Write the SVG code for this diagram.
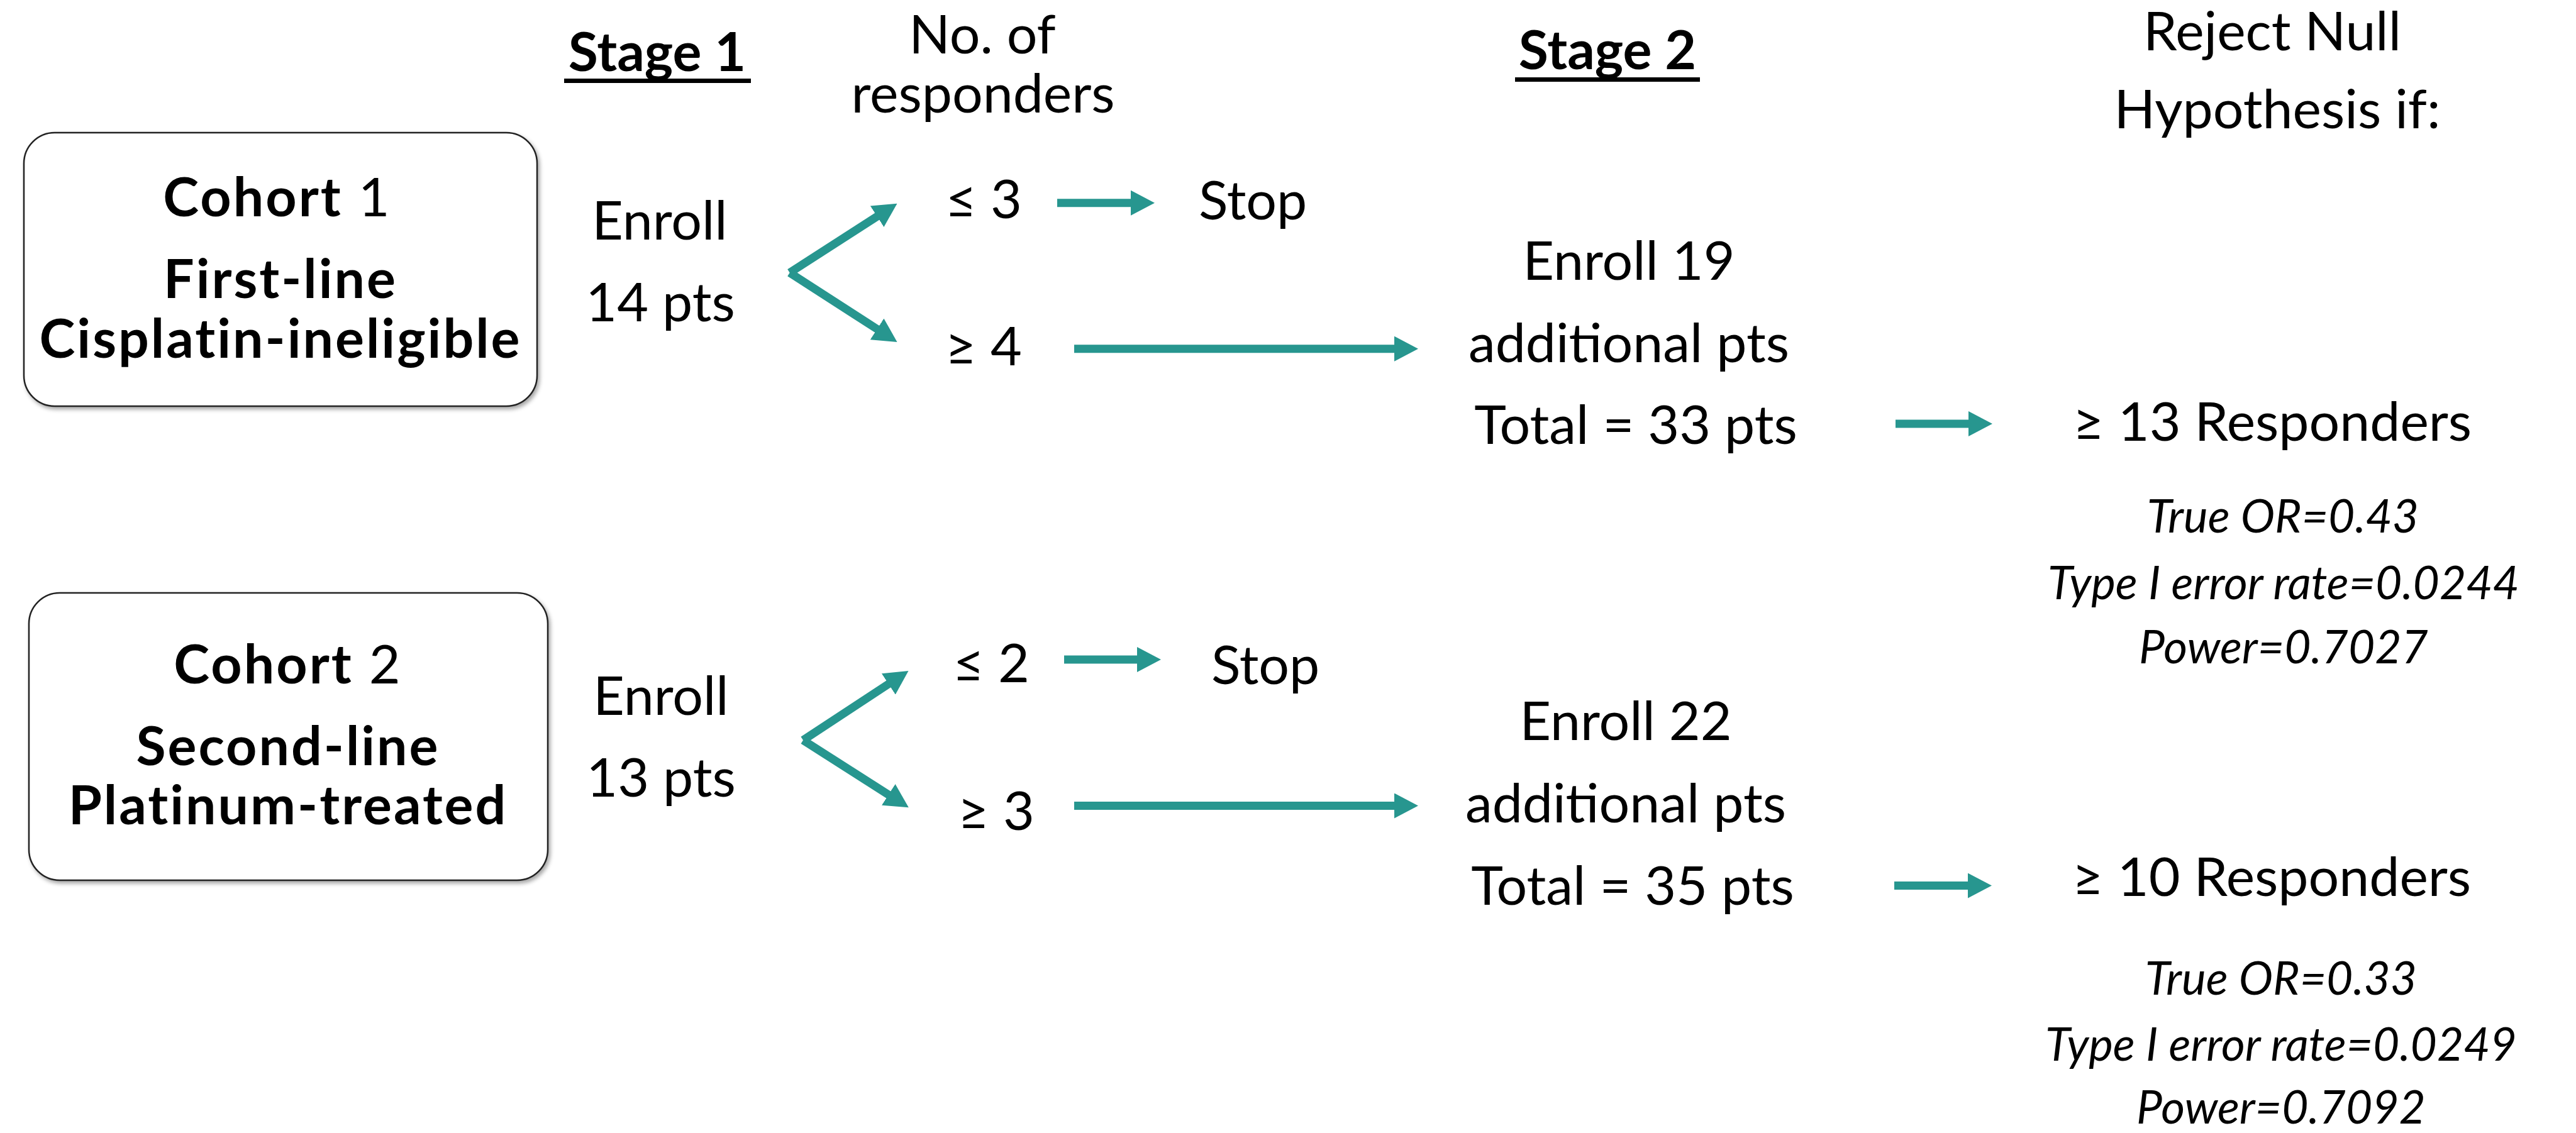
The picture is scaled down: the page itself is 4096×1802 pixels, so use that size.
<svg xmlns="http://www.w3.org/2000/svg" width="4096" height="1802" viewBox="0 0 4096 1802">
<style>
  text { font-family: Lato, "Open Sans", "Liberation Sans", sans-serif; fill: #000; }
  .r { font-size: 86px; }
  .b { font-size: 86px; font-weight: bold; }
  .nb { font-size: 86px; font-weight: bold; letter-spacing: 3px; }
  .i { font-size: 73px; font-style: italic; }
  .m { text-anchor: middle; }
  .box { fill: #fff; stroke: #222; stroke-width: 2.5; filter: url(#sh); }
  .ln { stroke: #27968F; stroke-width: 13; fill: none; marker-end: url(#ah); }
  .bar { fill: #000; }
</style>
<defs>
  <filter id="sh" x="-5%" y="-5%" width="115%" height="115%">
    <feDropShadow dx="3" dy="4" stdDeviation="3" flood-color="#000" flood-opacity="0.35"/>
  </filter>
  <marker id="ah" markerUnits="userSpaceOnUse" viewBox="0 0 38 40" markerWidth="38" markerHeight="40" refX="1" refY="20" orient="auto">
    <path d="M0,0 L38,20 L0,40 z" fill="#27968F"/>
  </marker>
</defs>
<rect width="4096" height="1802" fill="#fff"/>

<g id="headers">
  <text class="b m" x="1045" y="113">Stage 1</text>
  <rect class="bar" x="897" y="125" width="297" height="7"/>
  <text class="r m" x="1562" y="85">No. of</text>
  <text class="r m" x="1563" y="179">responders</text>
  <text class="b m" x="2556" y="110">Stage 2</text>
  <rect class="bar" x="2409" y="123" width="294" height="7"/>
  <text class="r m" x="3613" y="80">Reject Null</text>
  <text class="r m" x="3621" y="204">Hypothesis if:</text>
</g>

<g id="cohort1">
  <rect class="box" x="38" y="211" width="816" height="435" rx="49" ry="49"/>
  <text class="nb m" x="441" y="344">Cohort<tspan font-weight="normal"> 1</tspan></text>
  <text class="nb m" x="446" y="474">First-line</text>
  <text class="nb m" x="446" y="569">Cisplatin-ineligible</text>
</g>
<g id="enroll14">
  <text class="r m" x="1049" y="381">Enroll</text>
  <text class="r m" x="1050" y="511">14 pts</text>
</g>
<g id="le3"><text class="r" x="1503" y="347">≤ 3</text></g>
<g id="stop1"><text class="r" x="1906" y="349">Stop</text></g>
<g id="ge4"><text class="r" x="1503" y="581">≥ 4</text></g>
<g id="stage2c1">
  <text class="r m" x="2590" y="445">Enroll 19</text>
  <text class="r m" x="2590" y="576">additional pts</text>
  <text class="r m" x="2601" y="706">Total = 33 pts</text>
</g>
<g id="reject1">
  <text class="r m" x="3613" y="701">≥ 13 Responders</text>
  <text class="i m" x="3630" y="847">True OR=0.43</text>
  <text class="i m" x="3631" y="953">Type I error rate=0.0244</text>
  <text class="i m" x="3631" y="1055">Power=0.7027</text>
</g>

<g id="cohort2">
  <rect class="box" x="46" y="943" width="825" height="457" rx="49" ry="49"/>
  <text class="nb m" x="458" y="1087">Cohort<tspan font-weight="normal"> 2</tspan></text>
  <text class="nb m" x="458" y="1217">Second-line</text>
  <text class="nb m" x="458" y="1311">Platinum-treated</text>
</g>
<g id="enroll13">
  <text class="r m" x="1051" y="1137">Enroll</text>
  <text class="r m" x="1051" y="1267">13 pts</text>
</g>
<g id="le2"><text class="r" x="1515" y="1085">≤ 2</text></g>
<g id="stop2"><text class="r" x="1926" y="1088">Stop</text></g>
<g id="ge3"><text class="r" x="1523" y="1320">≥ 3</text></g>
<g id="stage2c2">
  <text class="r m" x="2585" y="1177">Enroll 22</text>
  <text class="r m" x="2585" y="1308">additional pts</text>
  <text class="r m" x="2596" y="1439">Total = 35 pts</text>
</g>
<g id="reject2">
  <text class="r m" x="3612" y="1425">≥ 10 Responders</text>
  <text class="i m" x="3627" y="1582">True OR=0.33</text>
  <text class="i m" x="3627" y="1687">Type I error rate=0.0249</text>
  <text class="i m" x="3627" y="1787">Power=0.7092</text>
</g>

<g id="connectors">
  <path class="ln" d="M1255.7,433.8 L1395.4,343.7"/>
  <path class="ln" d="M1255.7,433.8 L1395.4,523.9"/>
  <path class="ln" d="M1681,322.7 L1799,322.7"/>
  <path class="ln" d="M1708,554.7 L2218,554.7"/>
  <path class="ln" d="M3014,674 L3131,674"/>
  <path class="ln" d="M1277,1177.3 L1413.6,1087.4"/>
  <path class="ln" d="M1277,1177.3 L1413.6,1264.4"/>
  <path class="ln" d="M1692,1049 L1809,1049"/>
  <path class="ln" d="M1708,1281.5 L2218,1281.5"/>
  <path class="ln" d="M3012,1408.6 L3130,1408.6"/>
</g>
</svg>
